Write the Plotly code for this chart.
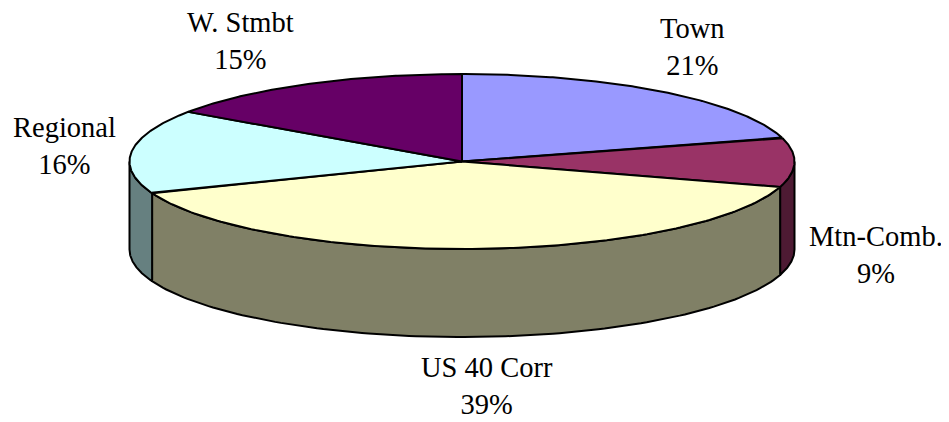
import numpy as np
import plotly.graph_objects as go

categories = ["Town", "Mtn-Comb.", "US 40 Corr", "Regional", "W. Stmbt"]
values = [20.6, 9.1, 39.4, 15.5, 15.4]
percent_labels = ["21%", "9%", "39%", "16%", "15%"]
top_colors = ["#9999FF", "#993366", "#FFFFCC", "#CCFFFF", "#660066"]
side_colors = ["#4D4D80", "#4D1A33", "#808066", "#668080", "#330033"]
label_xy = [(692, 47), (876, 255), (487, 386), (64, 146), (240, 41)]

CX, CY, RX, RY, DEPTH = 462, 161.5, 332.5, 87.5, 88
LW = 2
OFFSET = 8  # page body margin

def px(t):
    return CX + RX * np.sin(t)

def py(t):
    return CY - RY * np.cos(t)

fig = go.Figure()
edges = np.cumsum([0] + values) / sum(values) * 2 * np.pi

for i in range(len(values)):
    a, b = max(edges[i], np.pi / 2), min(edges[i + 1], 3 * np.pi / 2)
    if b <= a:
        continue
    t = np.linspace(a, b, 120)
    xs = np.r_[px(t), px(t[::-1]), px(t[0])]
    ys = np.r_[py(t), py(t[::-1]) + DEPTH, py(t[0])]
    fig.add_trace(go.Scatter(x=xs, y=ys, mode="lines", fill="toself",
                             fillcolor=side_colors[i],
                             line=dict(color="black", width=LW),
                             hoverinfo="skip", showlegend=False))

for i in range(len(values)):
    t = np.linspace(edges[i], edges[i + 1], 160)
    xs = np.r_[CX, px(t), CX]
    ys = np.r_[CY, py(t), CY]
    fig.add_trace(go.Scatter(x=xs, y=ys, mode="lines", fill="toself",
                             fillcolor=top_colors[i],
                             line=dict(color="black", width=LW),
                             name=categories[i], showlegend=False))

for c, p, (x, y) in zip(categories, percent_labels, label_xy):
    fig.add_annotation(x=x, y=y, text=f"{c}<br>{p}", showarrow=False,
                       font=dict(family="Liberation Serif", size=28.5, color="black"),
                       align="center", xanchor="center", yanchor="middle")

fig.update_layout(
    width=949 - OFFSET, height=422 - OFFSET, autosize=False,
    margin=dict(l=0, r=0, t=0, b=0),
    paper_bgcolor="white", plot_bgcolor="white",
    xaxis=dict(range=[OFFSET, 949], visible=False, fixedrange=True),
    yaxis=dict(range=[422, OFFSET], visible=False, fixedrange=True),
)
fig.write_html("out.html")
